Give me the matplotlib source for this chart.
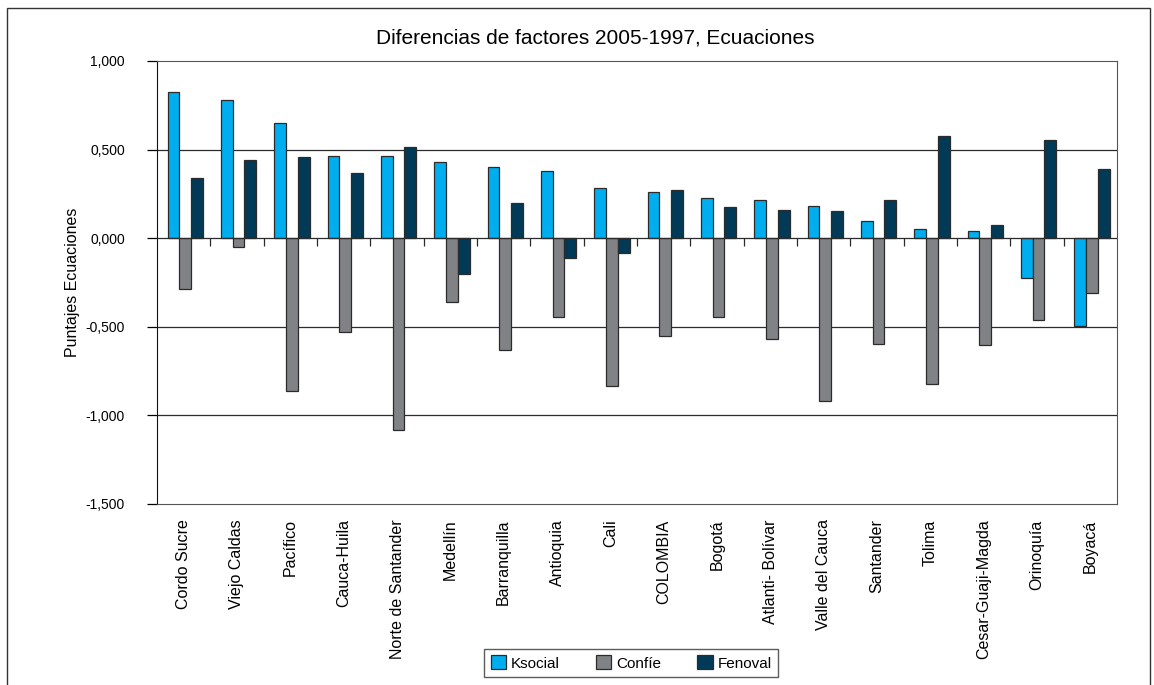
import numpy as np
import matplotlib.pyplot as plt
from matplotlib.patches import Rectangle
from matplotlib.ticker import FuncFormatter

plt.rcParams["font.family"] = ["Liberation Sans", "DejaVu Sans"]

# datos
regiones = ["Cordo Sucre", "Viejo Caldas", "Pacífico", "Cauca-Huila", "Norte de Santander",
            "Medellín", "Barranquilla", "Antioquia", "Cali", "COLOMBIA", "Bogotá",
            "Atlanti- Bolívar", "Valle del Cauca", "Santander", "Tolima",
            "Cesar-Guaji-Magda", "Orinoquía", "Boyacá"]
ksocial = [0.826, 0.780, 0.651, 0.463, 0.462, 0.432, 0.400, 0.379, 0.283,
           0.261, 0.229, 0.218, 0.180, 0.098, 0.054, 0.038, -0.225, -0.495]
confie = [-0.289, -0.051, -0.861, -0.531, -1.083, -0.362, -0.632, -0.443, -0.835,
          -0.550, -0.447, -0.568, -0.919, -0.595, -0.822, -0.602, -0.463, -0.311]
fenoval = [0.341, 0.443, 0.456, 0.366, 0.516, -0.204, 0.197, -0.111, -0.086,
           0.274, 0.176, 0.161, 0.154, 0.218, 0.578, 0.075, 0.553, 0.390]

colores = {"Ksocial": "#00AEEF", "Confíe": "#808285", "Fenoval": "#003A57"}

fig = plt.figure(figsize=(11.54, 6.85), dpi=100)
ax = fig.add_axes([157/1154, 1 - 504/685, (1117-157)/1154, (504-61)/685])

x = np.arange(len(regiones))
w = 0.22
series = [("Ksocial", ksocial), ("Confíe", confie), ("Fenoval", fenoval)]
for i, (nombre, vals) in enumerate(series):
    ax.bar(x + (i - 1) * w + 0.03, vals, width=w, color=colores[nombre],
           edgecolor="#2b2b2b", linewidth=0.9, label=nombre, zorder=3)

ax.set_xlim(-0.5, len(regiones) - 0.5)
ax.set_ylim(-1.5, 1.0)
ax.set_yticks(np.arange(-1.5, 1.01, 0.5))
ax.yaxis.set_major_formatter(FuncFormatter(lambda v, p: f"{v:.3f}".replace(".", ",")))
for yv in [-1.0, -0.5, 0.5]:
    ax.axhline(yv, color="#2b2b2b", lw=0.9, zorder=1)

# eje de categorias en cero, con marcas entre grupos
ax.axhline(0, color="#2b2b2b", lw=0.9, zorder=4)
ax.plot(np.arange(1, len(regiones)) - 0.5, np.zeros(len(regiones) - 1), ls="none",
        marker=3, markersize=6, color="#2b2b2b", markeredgewidth=0.9, zorder=4)

ax.set_xticks(x)
ax.set_xticklabels(regiones, rotation=90, fontsize=11.5)
ax.tick_params(axis="x", length=0, pad=11)
ax.tick_params(axis="y", length=7, direction="out", labelsize=10, pad=16, width=0.9)

for s in ["top", "right", "bottom"]:
    ax.spines[s].set_color("#555555")
ax.spines["left"].set_color("#111111")

ax.set_ylabel("Puntajes Ecuaciones", fontsize=11.5, labelpad=4)
fig.text(595/1154, 1 - 38/685, "Diferencias de factores 2005-1997, Ecuaciones",
         ha="center", va="center", fontsize=15)

fig.legend(loc="center", bbox_to_anchor=(631/1154, 1 - 663/685), ncol=3, fontsize=11,
           frameon=True, fancybox=False, edgecolor="#333333", handlelength=1.0,
           handleheight=1.0, columnspacing=2.4, handletextpad=0.3, borderpad=0.4)

fig.patches.append(Rectangle((7/1154, -0.01), (1150-7)/1154, 1.01 - 8/685,
                             transform=fig.transFigure, fill=False,
                             edgecolor="#333333", lw=1))

plt.savefig("out.png", dpi=100)
